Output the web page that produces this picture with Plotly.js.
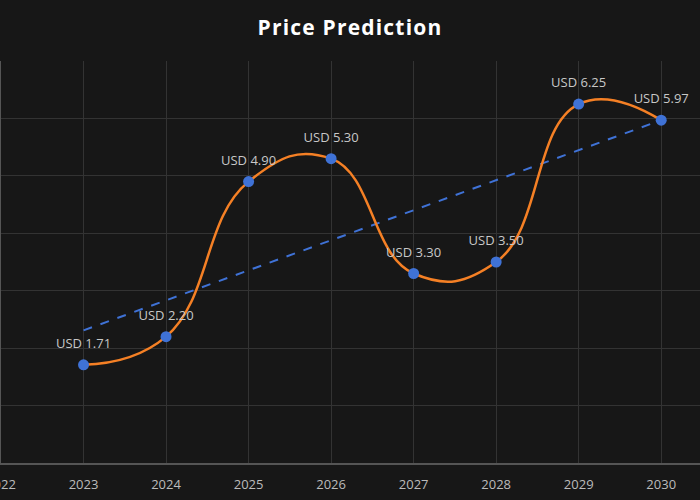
<!DOCTYPE html>
<html><head><meta charset="utf-8">
<script src="https://cdn.plot.ly/plotly-3.0.1.min.js"></script>
<style>html,body{margin:0;padding:0;background:#171717;}
.gtitle{letter-spacing:1.2px;}</style>
</head><body>
<div id="chart" style="width:700px;height:500px;"></div>
<script>
const years = [2023, 2024, 2025, 2026, 2027, 2028, 2029, 2030];
const prices = [1.71, 2.20, 4.90, 5.30, 3.30, 3.50, 6.25, 5.97];
const priceLabels = ["USD 1.71", "USD 2.20", "USD 4.90", "USD 5.30", "USD 3.30", "USD 3.50", "USD 6.25", "USD 5.97"];
const trendYears = [2023, 2030];
const trendValues = [2.31, 5.97];
const tickYears = [2022, 2023, 2024, 2025, 2026, 2027, 2028, 2029, 2030];

const font = "'Open Sans', 'Noto Sans', sans-serif";

const data = [
  {
    x: trendYears, y: trendValues, type: 'scatter', mode: 'lines',
    line: {color: '#3f72d6', width: 2, dash: 'dash'}, hoverinfo: 'skip'
  },
  {
    x: years, y: prices, type: 'scatter', mode: 'lines',
    line: {color: '#f58025', width: 2.5, shape: 'spline', smoothing: 1.3},
    hoverinfo: 'skip'
  },
  {
    x: years, y: prices, type: 'scatter', mode: 'markers+text',
    marker: {color: 'rgba(0,0,0,0)', size: 20},
    text: priceLabels, textposition: 'top center',
    textfont: {family: font, size: 13, color: '#c8c8c8'}
  },
  {
    x: years, y: prices, type: 'scatter', mode: 'markers',
    marker: {color: '#3f72d6', size: 11}
  }
];

const layout = {
  width: 700, height: 500,
  paper_bgcolor: '#171717', plot_bgcolor: '#171717',
  showlegend: false,
  margin: {l: 1, r: 0, t: 61, b: 37, pad: 0},
  title: {text: '<b>Price Prediction</b>', x: 0.5, xanchor: 'center', y: 0.945, yanchor: 'middle',
          font: {family: font, size: 21, color: '#ffffff'}},
  xaxis: {
    range: [2022, 2030.47], tickvals: tickYears, ticktext: tickYears.map(String),
    showgrid: true, gridcolor: '#333333', gridwidth: 1,
    showline: true, linecolor: '#555555', linewidth: 2,
    zeroline: false, ticks: '', ticklen: 0, ticklabelstandoff: 8,
    ticklabeloverflow: 'allow',
    tickfont: {family: font, size: 13, color: '#bbbbbb'}
  },
  yaxis: {
    range: [0, 7], dtick: 1, showticklabels: false,
    showgrid: true, gridcolor: '#333333', gridwidth: 1,
    showline: true, linecolor: '#555555', linewidth: 1,
    zeroline: false, ticks: ''
  }
};

Plotly.newPlot('chart', data, layout, {displayModeBar: false, staticPlot: true});
</script>
</body></html>
